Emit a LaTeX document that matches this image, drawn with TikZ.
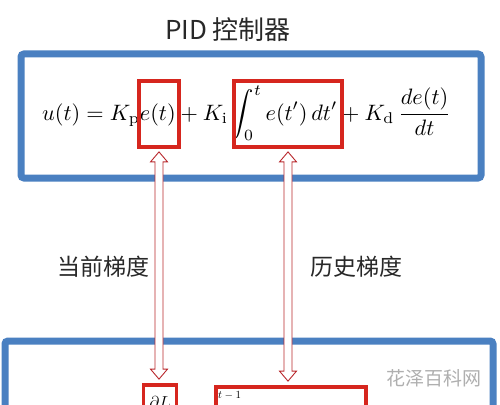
\documentclass[tikz,border=0pt]{standalone}
\usepackage{fontspec}
\usepackage{graphicx}
\newfontfamily\cjk{Noto Sans CJK SC}
\usetikzlibrary{calc}
\definecolor{boxblue}{RGB}{74,128,193}
\definecolor{boxred}{RGB}{214,38,30}
\definecolor{arrred}{RGB}{185,40,45}
\definecolor{wmgray}{RGB}{175,175,175}
\definecolor{titlegray}{RGB}{40,40,40}
\tikzset{
  bluebox/.style={draw=boxblue, line width=7pt, rounded corners=3pt},
  redbox/.style={draw=boxred, line width=3.8pt, inner sep=0pt, rectangle},
  dblarrow/.style={draw=arrred, line width=0.9pt, fill=white, line join=miter},
  cjklabel/.style={font=\cjk\fontsize{23}{26}\selectfont, inner sep=0pt, text=titlegray}
}
\begin{document}
\begin{tikzpicture}[x=1pt,y=-1pt]
\useasboundingbox (0,0) rectangle (500,404);
\fill[white] (0,0) rectangle (500,404);
\clip (0,0) rectangle (500,404);
% title
\node[cjklabel, font=\cjk\fontsize{26}{29}\selectfont] (title) at (228,30) {PID 控制器};
% top blue box
\draw[bluebox] (21,54) rectangle (481,178);
% formula
\node[inner sep=0pt] (formula) at (246.5,113)
  {\scalebox{2.23}{$\displaystyle u(t) = K_{\mathrm{p}} e(t) + K_{\mathrm{i}} \int_0^t e(t')\,dt' + K_{\mathrm{d}}\,\frac{de(t)}{dt}$}};
% red boxes top
\node[redbox, minimum width=40pt, minimum height=66pt] (rb1) at (159,114) {};
\node[redbox, minimum width=108pt, minimum height=66pt] (rb2) at (288,114) {};
% bottom blue box
\draw[bluebox] (5,341) rectangle (493,430);
% red boxes bottom
\node[redbox, minimum width=33pt, minimum height=40pt] (rb3) at (160,405) {};
\node[redbox, minimum width=150pt, minimum height=40pt] (rb4) at (291,407) {};
\node[inner sep=0pt, anchor=north, font=\fontsize{16}{18}\selectfont] (dl) at (160,396) {$\partial L$};
\node[inner sep=0pt, anchor=north west, font=\fontsize{11}{13}\selectfont] (tm1) at (218,391) {$t-1$};
% hollow double arrows
\foreach \a/\b in {rb1/rb3, rb2/rb4}{
  \draw[dblarrow] let \p1=($(\a.south)+(0,3)$), \p2=($(\b.north)+(0,-4)$) in
    (\x1-4pt,\y1-10pt) -- (\x1-8.5pt,\y1-10pt) -- (\x1,\y1) -- (\x1+8.5pt,\y1-10pt) -- (\x1+4pt,\y1-10pt)
    -- (\x1+4pt,\y2+10pt) -- (\x1+8.5pt,\y2+10pt) -- (\x1,\y2) -- (\x1-8.5pt,\y2+10pt) -- (\x1-4pt,\y2+10pt) -- cycle;
}
% labels
\node[cjklabel] (l1) at (103,267) {当前梯度};
\node[cjklabel] (l2) at (356,267) {历史梯度};
% watermark
\node[cjklabel, text=wmgray, font=\cjk\fontsize{19}{22}\selectfont] (wm) at (434,378) {花泽百科网};
\end{tikzpicture}
\end{document}
